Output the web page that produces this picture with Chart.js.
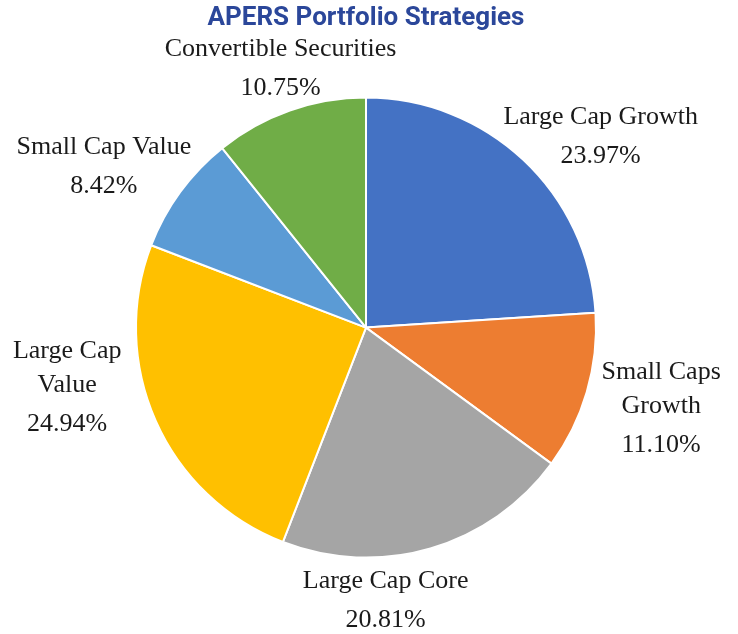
<!DOCTYPE html>
<html>
<head>
<meta charset="utf-8">
<script src="https://cdn.jsdelivr.net/npm/chart.js@4/dist/chart.umd.min.js"></script>
<style>
  html, body { margin: 0; padding: 0; background: #fff; }
  #wrap { width: 738px; height: 634px; }
</style>
</head>
<body>
<div id="wrap"><canvas id="pieone"></canvas></div>
<script>
// chart data
const categories = [
  ['Large Cap Growth'],
  ['Small Caps', 'Growth'],
  ['Large Cap Core'],
  ['Large Cap', 'Value'],
  ['Small Cap Value'],
  ['Convertible Securities']
];
const shares = [23.97, 11.10, 20.81, 24.94, 8.42, 10.75];
const sliceColors = ['#4472C4', '#ED7D31', '#A5A5A5', '#FFC000', '#5B9BD5', '#70AD47'];

// label nudges from the radial anchor (px)
const labelNudge = [[50, 6], [36, 5], [-56, 14], [-52, -49], [-44, -2], [4, -4]];

const outsideLabels = {
  id: 'outsideLabels',
  afterDraw(chart) {
    const ctx = chart.ctx;
    const arcs = chart.getDatasetMeta(0).data;
    ctx.save();
    ctx.font = '26px "Liberation Serif", serif';
    ctx.fillStyle = '#1a1a1a';
    ctx.textAlign = 'center';
    ctx.textBaseline = 'middle';
    arcs.forEach((arc, i) => {
      const mid = (arc.startAngle + arc.endAngle) / 2;
      const d = arc.outerRadius + 40;
      const cx = arc.x + Math.cos(mid) * d + labelNudge[i][0];
      const cy = arc.y + Math.sin(mid) * d + labelNudge[i][1];
      const lines = categories[i].concat([shares[i].toFixed(2) + '%']);
      const ys = [0];
      for (let k = 1; k < lines.length; k++) {
        ys.push(ys[k - 1] + (k === lines.length - 1 ? 39 : 34));
      }
      const off = ys[ys.length - 1] / 2;
      lines.forEach((t, k) => ctx.fillText(t, cx, cy - off + ys[k]));
    });
    ctx.restore();
  }
};

const ctx = document.getElementById('pieone').getContext('2d');
new Chart(ctx, {
  type: 'pie',
  data: {
    labels: categories,
    datasets: [{
      data: shares,
      backgroundColor: sliceColors,
      borderColor: '#ffffff',
      borderWidth: 2
    }]
  },
  options: {
    responsive: true,
    maintainAspectRatio: false,
    animation: false,
    layout: { padding: { left: 135, right: 141, top: 0, bottom: 75 } },
    plugins: {
      legend: { display: false },
      tooltip: { enabled: false },
      title: {
        display: true,
        text: 'APERS Portfolio Strategies',
        color: '#2B479A',
        font: { family: 'Roboto', size: 26, weight: 'bold' },
        padding: { top: 3, bottom: 62 }
      }
    }
  },
  plugins: [outsideLabels]
});
</script>
</body>
</html>
